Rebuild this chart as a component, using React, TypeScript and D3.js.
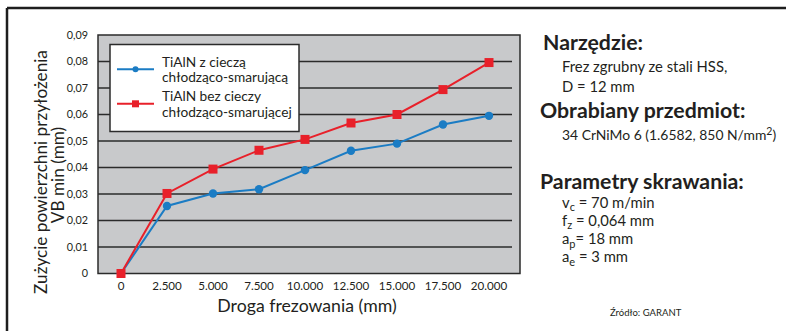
import React from "react";
import * as d3 from "d3";

// Milling distance categories (mm) and flank wear VB (mm)
const distances = ["0", "2.500", "5.000", "7.500", "10.000", "12.500", "15.000", "17.500", "20.000"];
const wearWithCoolant = [0, 0.0255, 0.0302, 0.0318, 0.039, 0.0463, 0.049, 0.0562, 0.0595];
const wearDry = [0, 0.0302, 0.0394, 0.0465, 0.0506, 0.0568, 0.06, 0.0694, 0.0796];
const yTicks = [0, 0.01, 0.02, 0.03, 0.04, 0.05, 0.06, 0.07, 0.08, 0.09];

const legendItems = [
  { lines: ["TiAlN z cieczą", "chłodząco-smarującą"], color: "#1b7cc4", marker: "circle" },
  { lines: ["TiAlN bez cieczy", "chłodząco-smarującej"], color: "#e8202a", marker: "square" },
];

// Cutting parameters: symbol, subscript, remainder of the line
const cuttingParams = [
  { sym: "v", sub: "c", rest: " = 70 m/min" },
  { sym: "f", sub: "z", rest: " = 0,064 mm" },
  { sym: "a", sub: "p", rest: "= 18 mm" },
  { sym: "a", sub: "e", rest: " = 3 mm" },
];

const W = 786;
const H = 331;
const FONT = "Lato, 'Open Sans', sans-serif";

export default function App() {
  const plot = { left: 98, right: 520, top: 35, bottom: 273.5, gridRight: 512 };

  const x = d3
    .scalePoint<string>()
    .domain(distances)
    .range([plot.left, plot.gridRight])
    .padding(0.5);
  const y = d3.scaleLinear().domain([0, 0.09]).range([plot.bottom, plot.top]);

  const line = d3
    .line<number>()
    .x((_, i) => x(distances[i]) as number)
    .y((d) => y(d));

  const fmt = (v: number) => (v === 0 ? "0" : d3.format(".2f")(v).replace(".", ","));

  const body = 14.8;
  const head = 21.3;
  const sub = 11;

  return (
    <svg
      width={W}
      height={H}
      style={{ position: "absolute", left: 0, top: 0, background: "#fff" }}
      fontFamily={FONT}
    >
      {/* outer frame */}
      <line x1={7} y1={8} x2={W} y2={8} stroke="#1e1e1e" strokeWidth={2.5} />
      <line x1={7} y1={8} x2={7} y2={H} stroke="#1e1e1e" strokeWidth={2.5} />

      {/* plot area */}
      <rect
        x={plot.left}
        y={plot.top}
        width={plot.right - plot.left}
        height={plot.bottom - plot.top}
        fill="#c8c9cb"
        stroke="#2b2b2b"
        strokeWidth={1.5}
      />
      {yTicks.map((t) => (
        <g key={t}>
          {t > 0 && t < 0.09 && (
            <line
              x1={plot.left}
              x2={plot.gridRight}
              y1={y(t)}
              y2={y(t)}
              stroke="#2b2b2b"
              strokeWidth={1.5}
            />
          )}
          <text
            x={88}
            y={y(t)}
            dy="0.35em"
            textAnchor="end"
            fontSize={10.8}
            fill="#231f20"
          >
            {fmt(t)}
          </text>
        </g>
      ))}

      {distances.map((d) => (
        <text
          key={d}
          x={x(d)}
          y={290}
          textAnchor="middle"
          fontSize={11.6}
          fill="#231f20"
        >
          {d}
        </text>
      ))}

      {/* series */}
      <path d={line(wearWithCoolant) || ""} fill="none" stroke="#1b7cc4" strokeWidth={2} />
      {wearWithCoolant.map((v, i) => (
        <circle key={i} cx={x(distances[i])} cy={y(v)} r={4.2} fill="#1b7cc4" />
      ))}
      <path d={line(wearDry) || ""} fill="none" stroke="#e8202a" strokeWidth={2} />
      {wearDry.map((v, i) => (
        <rect
          key={i}
          x={(x(distances[i]) as number) - 4.5}
          y={y(v) - 4.5}
          width={9}
          height={9}
          fill="#e8202a"
        />
      ))}

      {/* legend */}
      <rect x={110} y={44.5} width={189} height={87} fill="#fff" stroke="#2b2b2b" strokeWidth={1.5} />
      {legendItems.map((it, i) => {
        const cy = 69.3 + i * 34.5;
        return (
          <g key={i}>
            <line x1={117} x2={154} y1={cy} y2={cy} stroke={it.color} strokeWidth={2} />
            {it.marker === "circle" ? (
              <circle cx={135.5} cy={cy} r={3} fill={it.color} />
            ) : (
              <rect x={132} y={cy - 3.5} width={7} height={7} fill={it.color} />
            )}
            <text x={162} y={cy - 2.5} fontSize={13.7} fill="#231f20">
              {it.lines.map((l, j) => (
                <tspan key={j} x={162} dy={j === 0 ? 0 : 15.5}>
                  {l}
                </tspan>
              ))}
            </text>
          </g>
        );
      })}

      {/* axis titles */}
      <text x={307} y={312} textAnchor="middle" fontSize={17.7} fill="#231f20">
        Droga frezowania (mm)
      </text>
      <g transform="translate(47,172) rotate(-90)">
        <text x={0} y={0} textAnchor="middle" fontSize={17.2} fill="#231f20">
          Zużycie powierzchni przyłożenia
        </text>
      </g>
      <g transform="translate(64,175) rotate(-90)">
        <text x={0} y={0} textAnchor="middle" fontSize={17.2} fill="#231f20">
          VB min (mm)
        </text>
      </g>

      {/* side notes */}
      <g fill="#231f20">
        <text x={543} y={49.5} fontSize={head} fontWeight={700}>Narzędzie:</text>
        <text x={562} y={71.5} fontSize={body}>
          <tspan x={562}>Frez zgrubny ze stali HSS,</tspan>
          <tspan x={562} dy={20.5}>D = 12 mm</tspan>
        </text>

        <text x={540} y={118} fontSize={head} fontWeight={700}>Obrabiany przedmiot:</text>
        <text x={562} y={140} fontSize={13.9}>
          34 CrNiMo 6 (1.6582, 850 N/mm<tspan dy={-5} fontSize={10.5}>2</tspan>
          <tspan dy={5}>)</tspan>
        </text>

        <text x={540} y={188.5} fontSize={head} fontWeight={700}>Parametry skrawania:</text>
        <text x={562} y={207.5} fontSize={body}>
          {cuttingParams.map((p, i) => (
            <React.Fragment key={i}>
              <tspan x={562} dy={i === 0 ? 0 : 18.3}>{p.sym}</tspan>
              <tspan dy={3.5} fontSize={sub}>{p.sub}</tspan>
              <tspan dy={-3.5}>{p.rest}</tspan>
            </React.Fragment>
          ))}
        </text>

        <text x={610} y={316} fontSize={9.5}>Źródło: GARANT</text>
      </g>
    </svg>
  );
}
